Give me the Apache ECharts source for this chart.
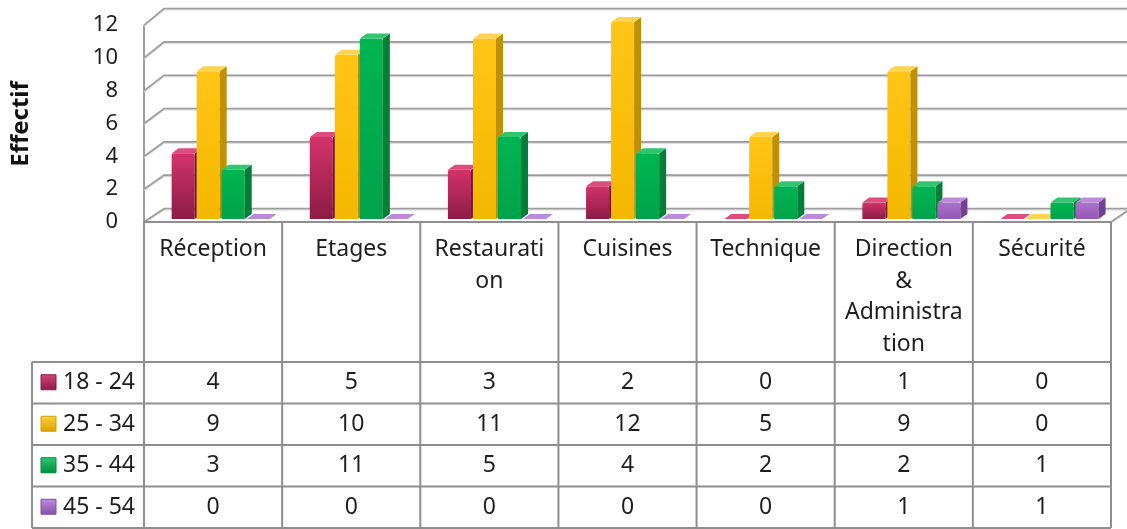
<!DOCTYPE html>
<html>
<head>
<meta charset="utf-8">
<script src="https://cdn.jsdelivr.net/npm/echarts@6/dist/echarts.min.js"></script>
<style>
  html, body { margin: 0; padding: 0; background: #fff; }
  #chart { width: 1127px; height: 529px; }
</style>
</head>
<body>
<div id="chart"></div>
<script>
// Staff headcount by department and age band
const categories = ['Réception', 'Etages', 'Restaurati\non', 'Cuisines', 'Technique', 'Direction\n&\nAdministra\ntion', 'Sécurité'];
const seriesNames = ['18 - 24', '25 - 34', '35 - 44', '45 - 54'];
const age18to24 = [4, 5, 3, 2, 0, 1, 0];
const age25to34 = [9, 10, 11, 12, 5, 9, 0];
const age35to44 = [3, 11, 5, 4, 2, 2, 1];
const age45to54 = [0, 0, 0, 0, 0, 1, 1];
const yTicks = [0, 2, 4, 6, 8, 10, 12];
const axisTitle = 'Effectif';

const seriesValues = [age18to24, age25to34, age35to44, age45to54];

// face colours: front gradient (top, bottom), side, top
const palette = [
  { front: ['#d3336a', '#8c1b45'], side: '#76163a', top: '#dc4c7c', mark: ['#d8457a', '#8c1b45'] },
  { front: ['#ffc516', '#f5b800'], side: '#c09000', top: '#ffd352', mark: ['#ffd040', '#d9a000'] },
  { front: ['#00b552', '#00a34a'], side: '#007d37', top: '#2fc66f', mark: ['#30c870', '#008a3e'] },
  { front: ['#ab72cb', '#9559b5'], side: '#744094', top: '#bb8ad8', mark: ['#c08ee0', '#8050a0'] }
];

const FONT = '"Noto Sans", "Open Sans", sans-serif';
const TEXT = '#1e1e1e';
const FS = 23;

// layout of the plot box and the data table below it
const layout = {
  left: 144, right: 1111, top: 25, floor: 222,
  depthX: 20, depthY: 13.5,
  tableLeft: 32, rowTop: 362, rowH: 41.5, rows: 4
};

const chart = echarts.init(document.getElementById('chart'), null, { renderer: 'canvas' });

function wallItem(params, api) {
  const v = api.value(0);
  const cs = params.coordSys;
  const c = api.coord([0, v]);
  const c0 = api.coord([0, 0]);
  const fx = cs.x;
  const fy = c[1];
  const bx = fx + layout.depthX;
  const by = c0[1] - layout.depthY - (c0[1] - c[1]) * 1.015;
  const ex = cs.x + cs.width + layout.depthX + 10;
  const pts = [[fx, fy], [bx, by], [ex, by]];
  const children = [
    { type: 'polyline', shape: { points: pts.map(p => [p[0], p[1] + 1]) }, style: { stroke: '#d6d6d6', lineWidth: 2, fill: null } },
    { type: 'polyline', shape: { points: pts }, style: { stroke: '#9c9c9c', lineWidth: 1.6, fill: null } }
  ];
  if (v === 0) {
    // left wall front edge and floor right edge
    const top = api.coord([0, yTicks[yTicks.length - 1]]);
    children.push({ type: 'line', shape: { x1: fx, y1: c0[1], x2: fx, y2: top[1] }, style: { stroke: '#9c9c9c', lineWidth: 2 } });
    const rx = cs.x + cs.width;
    children.push({ type: 'line', shape: { x1: rx, y1: c0[1], x2: rx + layout.depthX, y2: c0[1] - layout.depthY }, style: { stroke: '#9c9c9c', lineWidth: 2 } });
  }
  return { type: 'group', children };
}

function barItem(params, api) {
  const k = params.seriesIndex - 1;
  const col = palette[k];
  const i = api.value(0);
  const v = api.value(1);
  const c = api.coord([i, v]);
  const c0 = api.coord([i, 0]);
  const band = api.size([1, 0])[0];
  const w = band * 0.167;
  const x = c0[0] - band / 2 + band * 0.2 + k * band * 0.181;
  const y0 = c0[1] - 3;
  const y1 = c[1] - 3;
  const dx = 7, dy = 5;
  const children = [];
  if (y0 - y1 > 0.5) {
    children.push({
      type: 'rect', shape: { x: x, y: y1, width: w, height: y0 - y1, r: [2, 2, 0, 0] },
      style: { fill: { type: 'linear', x: 0, y: 0, x2: 0, y2: 1, colorStops: [{ offset: 0, color: col.front[0] }, { offset: 1, color: col.front[1] }] } }
    });
    children.push({
      type: 'polygon', shape: { points: [[x + w, y1], [x + w + dx, y1 - dy], [x + w + dx, y0 - dy], [x + w, y0]] },
      style: { fill: col.side }
    });
  }
  children.push({
    type: 'polygon', shape: { points: [[x, y1], [x + dx, y1 - dy], [x + w + dx, y1 - dy], [x + w, y1]] },
    style: { fill: col.top }
  });
  return { type: 'group', children };
}

const series = [{
  type: 'custom',
  name: 'walls',
  data: yTicks.map(t => [t]),
  encode: { y: 0 },
  renderItem: wallItem,
  silent: true,
  z: 1
}];
seriesValues.forEach((vals, k) => {
  series.push({
    type: 'custom',
    name: seriesNames[k],
    data: vals.map((v, i) => [i, v]),
    encode: { x: 0, y: 1 },
    renderItem: barItem,
    z: 2
  });
});

chart.setOption({
  backgroundColor: '#ffffff',
  animation: false,
  textStyle: { fontFamily: FONT },
  grid: { left: layout.left, right: 1127 - layout.right, top: layout.top, bottom: 529 - layout.floor, containLabel: false },
  xAxis: {
    type: 'category',
    data: categories,
    axisLine: { show: false },
    axisTick: { show: false },
    splitLine: { show: false },
    axisLabel: {
      interval: 0, margin: 12, fontSize: FS, color: TEXT, fontFamily: FONT,
      lineHeight: 31.5, verticalAlign: 'top', align: 'center'
    }
  },
  yAxis: {
    type: 'value',
    min: 0, max: 12, interval: 2,
    axisLine: { show: false },
    axisTick: { show: false },
    splitLine: { show: false },
    axisLabel: { margin: 26, fontSize: 22, color: TEXT, fontFamily: FONT }
  },
  series
});

// data table underneath the plot
const graphic = [];
const lineStyle = { stroke: '#8e8e8e', lineWidth: 2 };
const tableBottom = layout.rowTop + layout.rowH * layout.rows;
const colW = (layout.right - layout.left) / categories.length;

graphic.push({ type: 'line', shape: { x1: layout.left, y1: layout.floor, x2: layout.right, y2: layout.floor }, style: lineStyle, z: 10 });
for (let r = 0; r <= layout.rows; r++) {
  const y = layout.rowTop + r * layout.rowH;
  graphic.push({ type: 'line', shape: { x1: layout.tableLeft, y1: y, x2: layout.right, y2: y }, style: lineStyle, z: 10 });
}
for (let j = 0; j <= categories.length; j++) {
  const x = layout.left + j * colW;
  graphic.push({ type: 'line', shape: { x1: x, y1: layout.floor, x2: x, y2: tableBottom }, style: lineStyle, z: 10 });
}
graphic.push({ type: 'line', shape: { x1: layout.tableLeft, y1: layout.rowTop, x2: layout.tableLeft, y2: tableBottom }, style: lineStyle, z: 10 });

seriesValues.forEach((vals, r) => {
  const cy = layout.rowTop + layout.rowH * (r + 0.5);
  const m = palette[r].mark;
  graphic.push({
    type: 'rect', shape: { x: 41, y: cy - 8, width: 15, height: 15 },
    style: { fill: { type: 'linear', x: 0, y: 0, x2: 0, y2: 1, colorStops: [{ offset: 0, color: m[0] }, { offset: 1, color: m[1] }] }, stroke: m[1], lineWidth: 1 },
    z: 11
  });
  graphic.push({
    type: 'text', x: 63, y: cy,
    style: { text: seriesNames[r], font: FS + 'px ' + FONT, fill: TEXT, textAlign: 'left', textVerticalAlign: 'middle' },
    z: 11
  });
  vals.forEach((v, i) => {
    const cx = chart.convertToPixel({ xAxisIndex: 0 }, i);
    graphic.push({
      type: 'text', x: cx, y: cy,
      style: { text: String(v), font: FS + 'px ' + FONT, fill: TEXT, textAlign: 'center', textVerticalAlign: 'middle' },
      z: 11
    });
  });
});

graphic.push({
  type: 'text', x: 21, y: 124, rotation: Math.PI / 2,
  style: { text: axisTitle, font: 'bold 24px ' + FONT, fill: '#111', textAlign: 'center', textVerticalAlign: 'middle' },
  z: 11
});

chart.setOption({ graphic });
</script>
</body>
</html>
